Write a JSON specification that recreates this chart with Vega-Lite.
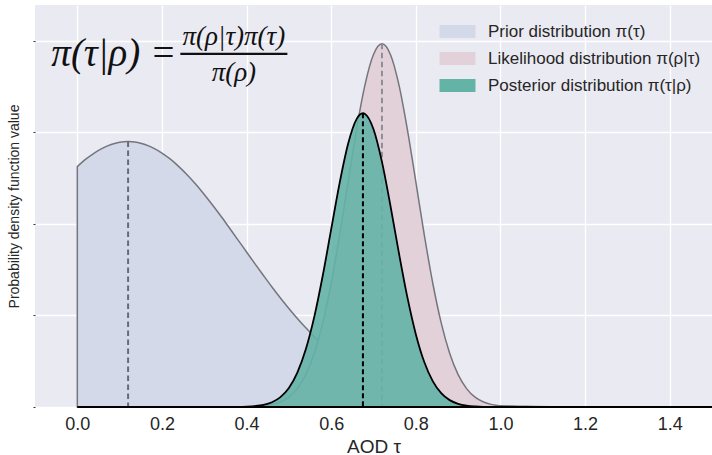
{
  "$schema": "https://vega.github.io/schema/vega-lite/v6.json",
  "width": 677,
  "height": 402,
  "autosize": "none",
  "padding": {"left": 35, "top": 5, "right": 0, "bottom": 48},
  "background": "white",
  "datasets": {
    "curves": [
      {"x": 0.00, "prior": 2.627, "likelihood": 0, "posterior": 0},
      {"x": 0.02, "prior": 2.708, "likelihood": 0, "posterior": 0},
      {"x": 0.04, "prior": 2.775, "likelihood": 0, "posterior": 0},
      {"x": 0.06, "prior": 2.829, "likelihood": 0, "posterior": 0},
      {"x": 0.08, "prior": 2.868, "likelihood": 0, "posterior": 0},
      {"x": 0.10, "prior": 2.892, "likelihood": 0, "posterior": 0},
      {"x": 0.12, "prior": 2.900, "likelihood": 0, "posterior": 0},
      {"x": 0.14, "prior": 2.892, "likelihood": 0, "posterior": 0},
      {"x": 0.16, "prior": 2.868, "likelihood": 0, "posterior": 0},
      {"x": 0.18, "prior": 2.829, "likelihood": 0, "posterior": 0},
      {"x": 0.20, "prior": 2.775, "likelihood": 0, "posterior": 0},
      {"x": 0.22, "prior": 2.708, "likelihood": 0, "posterior": 0},
      {"x": 0.24, "prior": 2.627, "likelihood": 0, "posterior": 0},
      {"x": 0.26, "prior": 2.535, "likelihood": 0, "posterior": 0},
      {"x": 0.28, "prior": 2.433, "likelihood": 0, "posterior": 0},
      {"x": 0.30, "prior": 2.322, "likelihood": 0, "posterior": 0},
      {"x": 0.32, "prior": 2.204, "likelihood": 0, "posterior": 0},
      {"x": 0.34, "prior": 2.081, "likelihood": 0, "posterior": 0},
      {"x": 0.36, "prior": 1.953, "likelihood": 0, "posterior": 0},
      {"x": 0.38, "prior": 1.824, "likelihood": 0.001, "posterior": 0.001},
      {"x": 0.40, "prior": 1.694, "likelihood": 0.002, "posterior": 0.004},
      {"x": 0.42, "prior": 1.564, "likelihood": 0.005, "posterior": 0.010},
      {"x": 0.44, "prior": 1.437, "likelihood": 0.011, "posterior": 0.023},
      {"x": 0.46, "prior": 1.312, "likelihood": 0.026, "posterior": 0.052},
      {"x": 0.48, "prior": 1.192, "likelihood": 0.054, "posterior": 0.108},
      {"x": 0.50, "prior": 1.077, "likelihood": 0.107, "posterior": 0.208},
      {"x": 0.52, "prior": 0.968, "likelihood": 0.201, "posterior": 0.376},
      {"x": 0.54, "prior": 0.865, "likelihood": 0.354, "posterior": 0.631},
      {"x": 0.56, "prior": 0.769, "likelihood": 0.588, "posterior": 0.985},
      {"x": 0.58, "prior": 0.679, "likelihood": 0.919, "posterior": 1.434},
      {"x": 0.60, "prior": 0.597, "likelihood": 1.355, "posterior": 1.943},
      {"x": 0.62, "prior": 0.522, "likelihood": 1.882, "posterior": 2.450},
      {"x": 0.64, "prior": 0.454, "likelihood": 2.463, "posterior": 2.877},
      {"x": 0.66, "prior": 0.392, "likelihood": 3.035, "posterior": 3.146},
      {"x": 0.675, "prior": 0.351, "likelihood": 3.413, "posterior": 3.210},
      {"x": 0.68, "prior": 0.338, "likelihood": 3.523, "posterior": 3.203},
      {"x": 0.70, "prior": 0.289, "likelihood": 3.853, "posterior": 3.036},
      {"x": 0.72, "prior": 0.246, "likelihood": 3.970, "posterior": 2.679},
      {"x": 0.74, "prior": 0.208, "likelihood": 3.853, "posterior": 2.201},
      {"x": 0.76, "prior": 0.175, "likelihood": 3.523, "posterior": 1.684},
      {"x": 0.78, "prior": 0.146, "likelihood": 3.035, "posterior": 1.200},
      {"x": 0.80, "prior": 0.122, "likelihood": 2.463, "posterior": 0.796},
      {"x": 0.82, "prior": 0.101, "likelihood": 1.882, "posterior": 0.491},
      {"x": 0.84, "prior": 0.083, "likelihood": 1.355, "posterior": 0.282},
      {"x": 0.86, "prior": 0.068, "likelihood": 0.919, "posterior": 0.151},
      {"x": 0.88, "prior": 0.055, "likelihood": 0.588, "posterior": 0.075},
      {"x": 0.90, "prior": 0.045, "likelihood": 0.354, "posterior": 0.035},
      {"x": 0.92, "prior": 0.036, "likelihood": 0.201, "posterior": 0.015},
      {"x": 0.94, "prior": 0.029, "likelihood": 0.107, "posterior": 0.006},
      {"x": 0.96, "prior": 0.023, "likelihood": 0.054, "posterior": 0.002},
      {"x": 0.98, "prior": 0.018, "likelihood": 0.026, "posterior": 0.001},
      {"x": 1.00, "prior": 0.014, "likelihood": 0.011, "posterior": 0},
      {"x": 1.04, "prior": 0.009, "likelihood": 0.002, "posterior": 0},
      {"x": 1.08, "prior": 0.005, "likelihood": 0, "posterior": 0},
      {"x": 1.12, "prior": 0.003, "likelihood": 0, "posterior": 0},
      {"x": 1.16, "prior": 0.002, "likelihood": 0, "posterior": 0},
      {"x": 1.20, "prior": 0.001, "likelihood": 0, "posterior": 0},
      {"x": 1.30, "prior": 0, "likelihood": 0, "posterior": 0},
      {"x": 1.40, "prior": 0, "likelihood": 0, "posterior": 0},
      {"x": 1.50, "prior": 0, "likelihood": 0, "posterior": 0}
    ],
    "modes": [
      {"dist": "prior", "x": 0.12, "peak": 2.90},
      {"dist": "likelihood", "x": 0.72, "peak": 3.97},
      {"dist": "posterior", "x": 0.675, "peak": 3.21}
    ],
    "formula": [
      {"part": "lhs", "label": "π(τ|ρ) ="},
      {"part": "num", "label": "π(ρ|τ)π(τ)"},
      {"part": "den", "label": "π(ρ)"}
    ]
  },
  "layer": [
    {
      "data": {"name": "curves"},
      "mark": {"type": "area", "interpolate": "monotone", "stroke": "#75757d", "strokeWidth": 1.5},
      "encoding": {
        "x": {"field": "x", "type": "quantitative", "scale": {"domain": [-0.1, 1.5], "nice": false, "zero": false},
          "axis": {"values": [0, 0.2, 0.4, 0.6, 0.8, 1.0, 1.2, 1.4], "format": ".1f", "labelFontSize": 18, "labelPadding": 8, "ticks": false, "title": "AOD τ", "titleFontSize": 19, "titlePadding": 4}},
        "y": {"field": "prior", "type": "quantitative", "scale": {"domain": [0, 4.393], "nice": false},
          "axis": {"values": [0, 1, 2, 3, 4], "labels": false, "ticks": true, "tickSize": 2, "tickColor": "#333333", "title": "Probability density function value", "titleFontSize": 14, "titlePadding": 11}},
        "fill": {"datum": "Prior distribution π(τ)", "type": "nominal",
          "scale": {"domain": ["Prior distribution π(τ)", "Likelihood distribution π(ρ|τ)", "Posterior distribution π(τ|ρ)"], "range": ["#d3d9e8", "#e3d1da", "#64b3a7"]},
          "legend": {"title": null, "orient": "none", "legendX": 414, "legendY": 18, "padding": 0,
            "symbolType": "M-2.77,-1H2.77V1H-2.77Z", "symbolSize": 169, "symbolStrokeWidth": 0, "symbolOpacity": 1,
            "labelFontSize": 17, "labelOffset": 22, "rowPadding": 9, "labelColor": "#262626", "labelFont": "Liberation Sans", "labelLimit": 400}}
      }
    },
    {
      "data": {"name": "modes"},
      "transform": [{"filter": "datum.dist === 'prior'"}],
      "mark": {"type": "rule", "stroke": "#6a6a72", "strokeWidth": 2, "strokeDash": [5.5, 3.5]},
      "encoding": {"x": {"field": "x", "type": "quantitative"}, "y": {"field": "peak", "type": "quantitative"}, "y2": {"datum": 0}}
    },
    {
      "data": {"name": "curves"},
      "mark": {"type": "area", "interpolate": "monotone", "stroke": "#75757d", "strokeWidth": 1.5},
      "encoding": {
        "x": {"field": "x", "type": "quantitative"},
        "y": {"field": "likelihood", "type": "quantitative"},
        "fill": {"datum": "Likelihood distribution π(ρ|τ)", "type": "nominal"}
      }
    },
    {
      "data": {"name": "modes"},
      "transform": [{"filter": "datum.dist === 'likelihood'"}],
      "mark": {"type": "rule", "stroke": "#8e8e96", "strokeWidth": 2, "strokeDash": [5.5, 3.5]},
      "encoding": {"x": {"field": "x", "type": "quantitative"}, "y": {"field": "peak", "type": "quantitative"}, "y2": {"datum": 0}}
    },
    {
      "data": {"name": "curves"},
      "mark": {"type": "area", "interpolate": "monotone", "stroke": "#000000", "strokeWidth": 1.8, "fillOpacity": 0.9},
      "encoding": {
        "x": {"field": "x", "type": "quantitative"},
        "y": {"field": "posterior", "type": "quantitative"},
        "fill": {"datum": "Posterior distribution π(τ|ρ)", "type": "nominal"}
      }
    },
    {
      "data": {"name": "modes"},
      "transform": [{"filter": "datum.dist === 'posterior'"}],
      "mark": {"type": "rule", "stroke": "#000000", "strokeWidth": 2, "strokeDash": [5, 3]},
      "encoding": {"x": {"field": "x", "type": "quantitative"}, "y": {"field": "peak", "type": "quantitative"}, "y2": {"datum": 0}}
    },
    {
      "data": {"name": "formula"},
      "transform": [{"filter": "datum.part === 'lhs'"}],
      "mark": {"type": "text", "align": "right", "baseline": "middle", "font": "Liberation Serif", "fontStyle": "italic", "fontSize": 39, "color": "#111111"},
      "encoding": {"x": {"datum": 0.234}, "y": {"datum": 3.86}, "text": {"field": "label"}}
    },
    {
      "data": {"name": "formula"},
      "transform": [{"filter": "datum.part === 'num'"}],
      "mark": {"type": "text", "align": "center", "baseline": "middle", "font": "Liberation Serif", "fontStyle": "italic", "fontSize": 27, "color": "#111111"},
      "encoding": {"x": {"datum": 0.37}, "y": {"datum": 4.04}, "text": {"field": "label"}}
    },
    {
      "data": {"name": "formula"},
      "transform": [{"filter": "datum.part === 'den'"}],
      "mark": {"type": "text", "align": "center", "baseline": "middle", "font": "Liberation Serif", "fontStyle": "italic", "fontSize": 27, "color": "#111111"},
      "encoding": {"x": {"datum": 0.37}, "y": {"datum": 3.65}, "text": {"field": "label"}}
    },
    {
      "data": {"name": "formula"},
      "transform": [{"filter": "datum.part === 'num'"}],
      "mark": {"type": "rule", "stroke": "#111111", "strokeWidth": 2.2},
      "encoding": {"x": {"datum": 0.2435}, "x2": {"datum": 0.4965}, "y": {"datum": 3.858}}
    }
  ],
  "config": {
    "view": {"fill": "#EAEAF2", "stroke": null},
    "axis": {"domain": false, "gridColor": "#ffffff", "gridWidth": 1.3, "labelFont": "Liberation Sans", "titleFont": "Liberation Sans", "labelColor": "#262626", "titleColor": "#262626", "titleFontWeight": "normal"}
  }
}
